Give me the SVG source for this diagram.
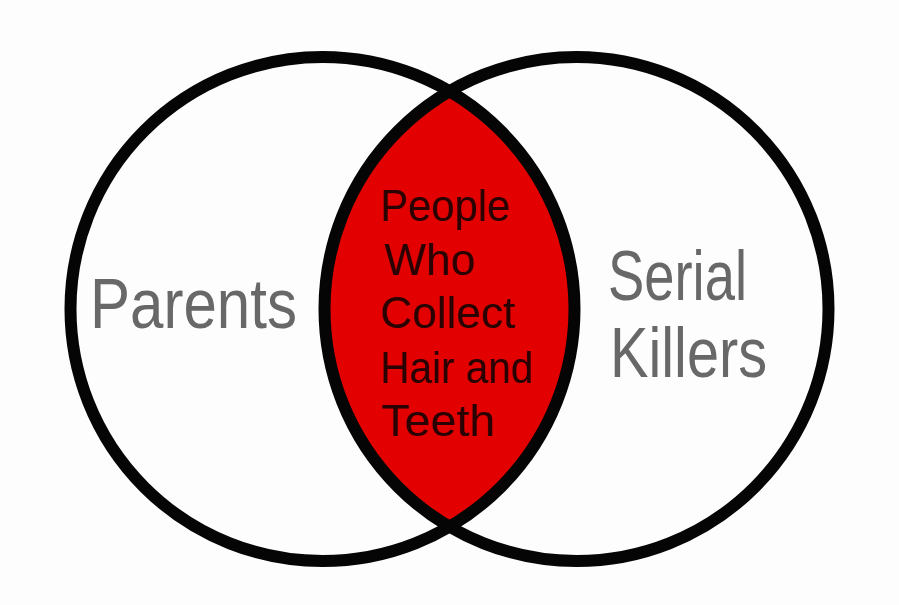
<svg xmlns="http://www.w3.org/2000/svg" width="899" height="605" viewBox="0 0 899 605">
<style>
.ring{fill:none;stroke:#050505;stroke-width:12}
.outer{font-family:"Liberation Sans","DejaVu Sans",sans-serif;font-size:71px;fill:#686868}
.inner{font-family:"Liberation Sans","DejaVu Sans",sans-serif;font-size:45px;fill:#2a0202}
</style>
<rect width="899" height="605" fill="#fdfdfd"/>
<g id="overlap">
<path d="M449.5 91.3 A252 252 0 0 1 449.5 526.7 A252 252 0 0 1 449.5 91.3 Z" fill="#e20000"/>
</g>
<g id="parents">
<circle class="ring" cx="322.5" cy="309" r="252"/>
<text class="outer" x="90" y="328" textLength="207" lengthAdjust="spacingAndGlyphs">Parents</text>
</g>
<g id="serial-killers">
<circle class="ring" cx="576.5" cy="309" r="252"/>
<text class="outer" x="608" y="300" textLength="139" lengthAdjust="spacingAndGlyphs">Serial</text>
<text class="outer" x="610" y="377" textLength="157" lengthAdjust="spacingAndGlyphs">Killers</text>
</g>
<g id="intersection-label">
<text class="inner" x="380" y="221" textLength="130" lengthAdjust="spacingAndGlyphs">People</text>
<text class="inner" x="384" y="275" textLength="91" lengthAdjust="spacingAndGlyphs">Who</text>
<text class="inner" x="380" y="328" textLength="135" lengthAdjust="spacingAndGlyphs">Collect</text>
<text class="inner" x="380" y="383" textLength="153" lengthAdjust="spacingAndGlyphs">Hair and</text>
<text class="inner" x="381" y="436" textLength="114" lengthAdjust="spacingAndGlyphs">Teeth</text>
</g>
<g id="connectors"></g>
</svg>
